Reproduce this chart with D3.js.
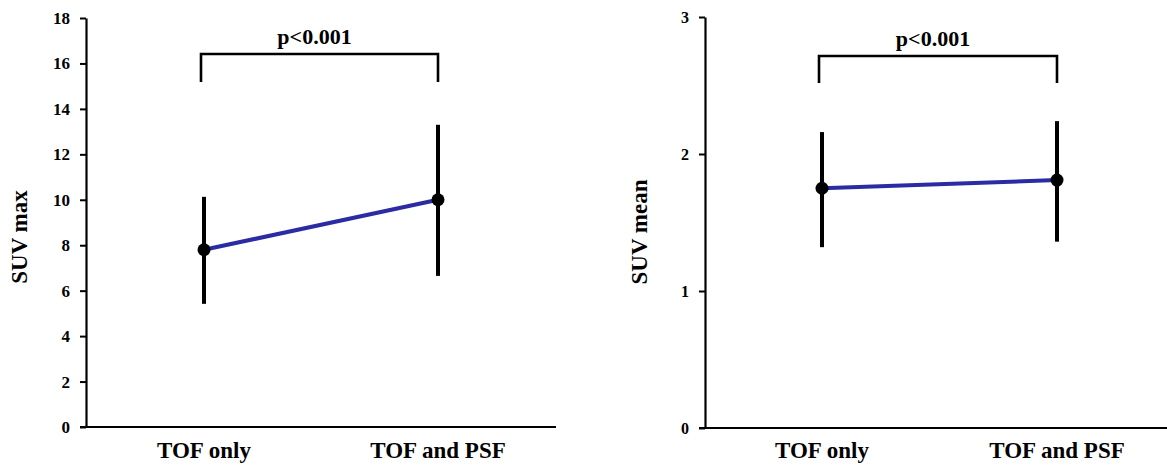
<!DOCTYPE html>
<html>
<head>
<meta charset="utf-8">
<script src="https://cdn.jsdelivr.net/npm/d3@7"></script>
<style>
  body { margin: 0; background: #fff; }
  text { font-family: "Liberation Serif", "Times New Roman", serif; font-weight: bold; fill: #000; }
</style>
</head>
<body>
<svg id="canvas"></svg>
<script>
const w = 1167, h = 465;

const categories = ["TOF only", "TOF and PSF"];

// SUV max panel
const maxMean = [7.8, 10.0];
const maxLow = [5.42, 6.65];
const maxHigh = [10.13, 13.3];
const maxTicks = [0, 2, 4, 6, 8, 10, 12, 14, 16, 18];

// SUV mean panel
const meanMean = [1.75, 1.81];
const meanLow = [1.32, 1.36];
const meanHigh = [2.16, 2.24];
const meanTicks = [0, 1, 2, 3];

const pLabel = "p<0.001";

const svg = d3.select("#canvas")
  .attr("width", w)
  .attr("height", h);

function panel(opts) {
  const g = svg.append("g");

  const y = d3.scaleLinear().domain(opts.yDomain).range([opts.y0, opts.y1]);
  const x = d3.scalePoint().domain(categories).range(opts.catRange);

  // y axis
  g.append("g")
    .attr("transform", `translate(${opts.x0},0)`)
    .call(d3.axisLeft(y).tickValues(opts.ticks).tickFormat(d3.format("d"))
      .tickSize(6).tickPadding(opts.tickPad).tickSizeOuter(0))
    .call(a => a.select(".domain").attr("stroke-width", 2.2))
    .call(a => a.selectAll(".tick line").attr("stroke-width", 2))
    .call(a => a.selectAll(".tick text")
      .style("font-family", "Liberation Serif, serif")
      .style("font-weight", "bold")
      .style("font-size", opts.tickFont + "px"));

  // x axis line
  g.append("line")
    .attr("x1", opts.x0 - 6).attr("x2", opts.x1)
    .attr("y1", y(opts.yDomain[0])).attr("y2", y(opts.yDomain[0]))
    .attr("stroke", "#000").attr("stroke-width", 2.2);

  // category labels
  g.selectAll(".cat")
    .data(categories)
    .enter()
    .append("text")
      .attr("class", "cat")
      .attr("x", d => x(d))
      .attr("y", 458)
      .attr("text-anchor", "middle")
      .style("font-size", "23px")
      .text(d => d);

  // y label
  g.append("text")
    .attr("transform", `translate(${opts.labelX},${opts.labelY}) rotate(-90)`)
    .attr("text-anchor", "middle")
    .style("font-size", "23px")
    .text(opts.yLabel);

  // error bars
  g.selectAll(".err")
    .data(categories)
    .enter()
    .append("line")
      .attr("class", "err")
      .attr("x1", d => x(d)).attr("x2", d => x(d))
      .attr("y1", (d, i) => y(opts.low[i]))
      .attr("y2", (d, i) => y(opts.high[i]))
      .attr("stroke", "#000")
      .attr("stroke-width", 4);

  // connecting line
  g.append("path")
    .datum(categories)
    .attr("fill", "none")
    .attr("stroke", "#2b2ba3")
    .attr("stroke-width", 4)
    .attr("d", d3.line().x(d => x(d)).y((d, i) => y(opts.mean[i])));

  // mean points
  g.selectAll(".pt")
    .data(categories)
    .enter()
    .append("circle")
      .attr("class", "pt")
      .attr("cx", d => x(d))
      .attr("cy", (d, i) => y(opts.mean[i]))
      .attr("r", 6.5)
      .attr("fill", "#000");

  // significance bracket
  const bx0 = x(categories[0]) - 3, bx1 = x(categories[1]);
  g.append("path")
    .attr("d", `M${bx0},${opts.bLeg}V${opts.bTop}H${bx1}V${opts.bLeg}`)
    .attr("fill", "none")
    .attr("stroke", "#000")
    .attr("stroke-width", 2.6);

  g.append("text")
    .attr("x", (bx0 + bx1) / 2 - 5)
    .attr("y", opts.bTop - 10)
    .attr("text-anchor", "middle")
    .style("font-size", "22px")
    .text(pLabel);
}

panel({
  yDomain: [0, 18], y0: 427, y1: 18, x0: 86, x1: 556,
  catRange: [204, 438], ticks: maxTicks, tickPad: 10, tickFont: 17,
  mean: maxMean, low: maxLow, high: maxHigh,
  yLabel: "SUV max", labelX: 27, labelY: 237,
  bTop: 54, bLeg: 82
});

panel({
  yDomain: [0, 3], y0: 428, y1: 17, x0: 705, x1: 1167,
  catRange: [822, 1057], ticks: meanTicks, tickPad: 10, tickFont: 16,
  mean: meanMean, low: meanLow, high: meanHigh,
  yLabel: "SUV mean", labelX: 647, labelY: 232,
  bTop: 56, bLeg: 83
});
</script>
</body>
</html>
